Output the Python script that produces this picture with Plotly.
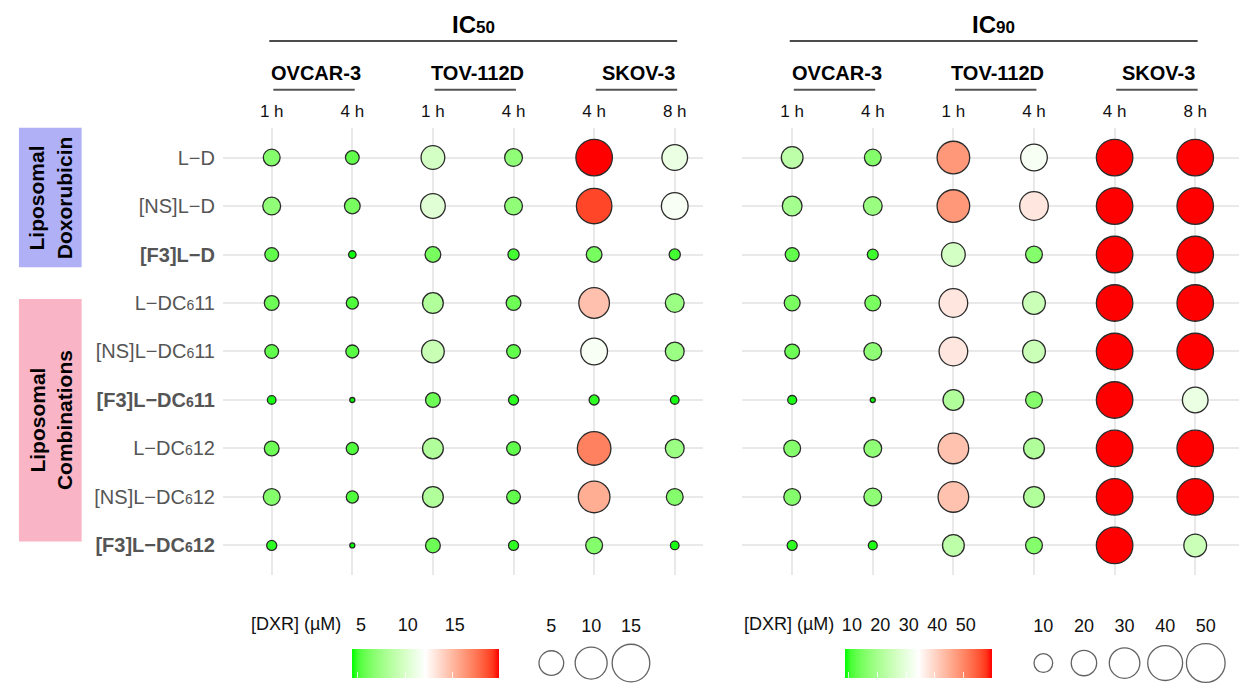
import math
import plotly.graph_objects as go

# ---------------------------------------------------------------------------
# Data: inhibitory concentrations of doxorubicin (µM) per formulation
# ---------------------------------------------------------------------------
formulations = ["L-D", "[NS]L-D", "[F3]L-D",
                "L-DC611", "[NS]L-DC611", "[F3]L-DC611",
                "L-DC612", "[NS]L-DC612", "[F3]L-DC612"]

cell_lines = ["OVCAR-3", "TOV-112D", "SKOV-3"]
time_points = ["1 h", "4 h", "1 h", "4 h", "4 h", "8 h"]

# columns: OVCAR-3 1 h, OVCAR-3 4 h, TOV-112D 1 h, TOV-112D 4 h, SKOV-3 4 h, SKOV-3 8 h
ic50_um = [
    [6.6, 5.6, 9.9, 7.0, 20.0, 11.1],
    [7.0, 6.2, 10.5, 7.0, 19.0, 11.8],
    [5.6, 4.5, 6.2, 5.0, 6.2, 5.0],
    [5.9, 5.2, 8.3, 5.9, 14.7, 7.4],
    [5.6, 5.4, 9.3, 5.6, 11.8, 7.4],
    [4.6, 4.4, 5.9, 4.8, 4.8, 4.6],
    [5.9, 5.2, 8.3, 5.6, 17.2, 7.4],
    [6.6, 5.2, 8.3, 5.6, 15.5, 6.6],
    [4.8, 4.4, 5.9, 4.8, 6.6, 4.6],
]

ic90_um = [
    [23.1, 15.8, 48.0, 32.9, 60.0, 60.0],
    [19.9, 18.4, 48.0, 37.5, 60.0, 60.0],
    [12.7, 10.4, 26.7, 15.8, 60.0, 60.0],
    [14.7, 14.7, 37.5, 24.9, 60.0, 60.0],
    [13.6, 17.1, 37.5, 24.9, 60.0, 60.0],
    [9.4, 8.6, 21.5, 15.8, 60.0, 30.7],
    [15.8, 17.1, 42.5, 21.5, 60.0, 60.0],
    [15.8, 17.1, 42.5, 21.5, 60.0, 60.0],
    [9.9, 9.4, 23.1, 15.8, 60.0, 24.9],
]

ic50_color_ticks = [5, 10, 15]
ic90_color_ticks = [10, 20, 30, 40, 50]
ic50_size_keys = [5, 10, 15]
ic90_size_keys = [10, 20, 30, 40, 50]

# ---------------------------------------------------------------------------
# Styling / geometry
# ---------------------------------------------------------------------------
W, H = 1239, 684
FONT = "Liberation Sans, Arial, sans-serif"
GRID = "#e9e9e9"
LABEL_GREY = "#555555"

PANEL_TOP, PANEL_BOTTOM = 128, 577
LEFT_X = (218, 700)
RIGHT_X = (740, 1239)
COL0_LEFT, COL0_RIGHT, COL_STEP = 267, 790, 81
ROW0, ROW_STEP = 158, 48.63

D_MIN, D_MAX = 5.0, 36.5  # bubble diameter range in px


def fx(p):
    return p / W


def fy(p):
    return 1 - p / H


def bubble_px(v, vmin, vmax):
    return D_MIN + (D_MAX - D_MIN) * math.sqrt((v - vmin) / (vmax - vmin))


# --- green -> white -> red gradient interpolated in CIELAB -----------------
def _to_lin(c):
    c /= 255.0
    return c / 12.92 if c <= 0.04045 else ((c + 0.055) / 1.055) ** 2.4


def _from_lin(c):
    v = 12.92 * c if c <= 0.0031308 else 1.055 * c ** (1 / 2.4) - 0.055
    return int(round(max(0.0, min(1.0, v)) * 255))


def rgb_to_lab(rgb):
    r, g, b = (_to_lin(c) for c in rgb)
    X = (0.4124 * r + 0.3576 * g + 0.1805 * b) / 0.95047
    Y = 0.2126 * r + 0.7152 * g + 0.0722 * b
    Z = (0.0193 * r + 0.1192 * g + 0.9505 * b) / 1.08883
    d = 6 / 29

    def f(t):
        return t ** (1 / 3) if t > d ** 3 else t / (3 * d * d) + 4 / 29
    return (116 * f(Y) - 16, 500 * (f(X) - f(Y)), 200 * (f(Y) - f(Z)))


def lab_to_rgb(lab):
    L, a, b = lab
    d = 6 / 29
    fy_ = (L + 16) / 116
    fx_ = fy_ + a / 500
    fz_ = fy_ - b / 200

    def finv(t):
        return t ** 3 if t > d else 3 * d * d * (t - 4 / 29)
    X, Y, Z = 0.95047 * finv(fx_), finv(fy_), 1.08883 * finv(fz_)
    r = 3.2406 * X - 1.5372 * Y - 0.4986 * Z
    g = -0.9689 * X + 1.8758 * Y + 0.0415 * Z
    bb = 0.0557 * X - 0.2040 * Y + 1.0570 * Z
    return "rgb({},{},{})".format(_from_lin(r), _from_lin(g), _from_lin(bb))


def lab_ramp(c0, c1, c2, n=12):
    l0, l1, l2 = rgb_to_lab(c0), rgb_to_lab(c1), rgb_to_lab(c2)
    stops = []
    for i in range(n + 1):
        t = i / n
        stops.append([0.5 * t, lab_to_rgb(tuple(p + (q - p) * t for p, q in zip(l0, l1)))])
    for i in range(1, n + 1):
        t = i / n
        stops.append([0.5 + 0.5 * t, lab_to_rgb(tuple(p + (q - p) * t for p, q in zip(l1, l2)))])
    return stops


COLORSCALE = lab_ramp((0, 255, 0), (255, 255, 255), (255, 0, 0))


def with_sub6(name):
    return name.replace("-", "−").replace("DC6", "DC<span style='font-size:14px'>6</span>")


row_labels = ["<b>" + with_sub6(n) + "</b>" if n.startswith("[F3]") else with_sub6(n)
              for n in formulations]

# ---------------------------------------------------------------------------
fig = go.Figure()

panels = [
    ("x", "y", ic50_um, ic50_color_ticks, COL0_LEFT, LEFT_X),
    ("x2", "y2", ic90_um, ic90_color_ticks, COL0_RIGHT, RIGHT_X),
]

for k, (xa, ya, table, cticks, col0, span) in enumerate(panels):
    flat = [v for row in table for v in row]
    vmin, vmax = min(flat), max(flat)
    xs, ys, vs = [], [], []
    for i, row in enumerate(table):
        for j, v in enumerate(row):
            xs.append(j)
            ys.append(i)
            vs.append(v)
    bar_left = 351 if k == 0 else 846
    fig.add_trace(go.Scatter(
        x=xs, y=ys, mode="markers", xaxis=xa, yaxis=ya, showlegend=False,
        hoverinfo="skip", cliponaxis=False,
        marker=dict(
            size=[bubble_px(v, vmin, vmax) for v in vs],
            color=vs, colorscale=COLORSCALE, cmin=vmin, cmax=vmax,
            opacity=1, line=dict(color="#2b2b2b", width=1.3),
            showscale=True,
            colorbar=dict(
                orientation="h", x=fx(bar_left - 3), xanchor="left",
                y=fy(651), yanchor="top", len=147, lenmode="pixels",
                thickness=29, thicknessmode="pixels", outlinewidth=0,
                xpad=0, ypad=0, showticklabels=False, ticks="inside",
                tickvals=cticks, tickcolor="rgba(255,255,255,0.8)", ticklen=6,
            ),
        ),
    ))

    # tick labels of the colour key, placed above the bar
    lab_x, lab_y = ("x3", "y3") if k == 0 else ("x4", "y4")
    fig.add_trace(go.Scatter(x=[], y=[], xaxis=lab_x, yaxis=lab_y,
                             showlegend=False, hoverinfo="skip"))
    fig.update_layout(**{
        ("xaxis3" if k == 0 else "xaxis4"): dict(
            domain=[fx(bar_left), fx(bar_left + 147)], range=[vmin, vmax],
            anchor=lab_y, side="top", tickvals=cticks, showgrid=False,
            zeroline=False, showline=False, ticks="outside", ticklen=9,
            tickcolor="rgba(0,0,0,0)", tickfont=dict(size=18, color="#111"),
        ),
        ("yaxis3" if k == 0 else "yaxis4"): dict(
            domain=[fy(680), fy(650)], anchor=lab_x, visible=False, range=[0, 1],
        ),
    })

# size keys
size_keys = [
    ("x5", "y5", ic50_size_keys, (528, 648), lambda v: 8.2 + 7.94 * math.sqrt(v)),
    ("x6", "y6", ic90_size_keys, (1022, 1226), lambda v: 3.8 + 5.12 * math.sqrt(v)),
]
for n, (xa, ya, keys, (a, b), dfun) in enumerate(size_keys):
    fig.add_trace(go.Scatter(
        x=[str(v) for v in keys], y=[0] * len(keys), mode="markers",
        xaxis=xa, yaxis=ya, showlegend=False, hoverinfo="skip", cliponaxis=False,
        marker=dict(size=[dfun(v) - 1.3 for v in keys], color="white",
                    line=dict(color="#222", width=1.3)),
    ))
    fig.update_layout(**{
        "xaxis%d" % (5 + n): dict(
            domain=[fx(a), fx(b)], anchor=ya, side="top", type="category",
            range=[-0.5, len(keys) - 0.5], showgrid=False, zeroline=False,
            showline=False, ticks="outside", ticklen=5,
            tickcolor="rgba(0,0,0,0)", tickfont=dict(size=18, color="#111"),
        ),
        "yaxis%d" % (5 + n): dict(
            domain=[fy(683), fy(647)], anchor=xa, visible=False, range=[-1, 1],
        ),
    })

# main panel axes
y_range = [(PANEL_BOTTOM - ROW0) / ROW_STEP, -(ROW0 - PANEL_TOP) / ROW_STEP]
for k, (xa, ya, table, cticks, col0, span) in enumerate(panels):
    xr = [-(col0 - span[0]) / COL_STEP, (span[1] - col0) / COL_STEP]
    xkey = "xaxis" if k == 0 else "xaxis2"
    ykey = "yaxis" if k == 0 else "yaxis2"
    fig.update_layout(**{
        xkey: dict(
            domain=[fx(span[0]), fx(span[1])], range=xr, anchor=ya, side="top",
            tickvals=list(range(len(time_points))), ticktext=time_points,
            showgrid=True, gridcolor=GRID, gridwidth=2, zeroline=False,
            showline=False, ticks="outside", ticklen=3,
            tickcolor="rgba(0,0,0,0)", tickfont=dict(size=17, color="#111"),
        ),
        ykey: dict(
            domain=[fy(PANEL_BOTTOM), fy(PANEL_TOP)], range=y_range, anchor=xa,
            tickvals=list(range(len(formulations))),
            ticktext=row_labels if k == 0 else None,
            showticklabels=(k == 0), showgrid=True, gridcolor=GRID, gridwidth=2,
            zeroline=False, showline=False, ticks="outside", ticklen=3,
            tickcolor="rgba(0,0,0,0)",
            tickfont=dict(size=20, color=LABEL_GREY),
        ),
    })

    # IC title and rule
    title = "IC50" if k == 0 else "IC90"
    fig.add_annotation(
        x=2.5, xref=xa, y=fy(25), yref="paper", showarrow=False,
        xanchor="center", yanchor="middle",
        text="<b>IC<span style='font-size:17px'>{}</span></b>".format(title[2:]),
        font=dict(size=24, color="#000"),
    )
    fig.add_shape(type="line", xref=xa, yref="paper", x0=-0.03, x1=5.03,
                  y0=fy(41), y1=fy(41), line=dict(color="#111", width=1.5))
    for c, cl in enumerate(cell_lines):
        fig.add_annotation(
            x=2 * c + 0.55, xref=xa, y=fy(73), yref="paper", showarrow=False,
            xanchor="center", yanchor="middle",
            text="<b>{}</b>".format(cl), font=dict(size=20, color="#000"),
        )
        fig.add_shape(type="line", xref=xa, yref="paper", x0=2 * c + 0.02,
                      x1=2 * c + 1.03, y0=fy(90), y1=fy(90),
                      line=dict(color="#555", width=2))
    fig.add_annotation(
        x=fx(291 if k == 0 else 787), xref="paper", y=fy(626), yref="paper",
        xanchor="center", yanchor="middle",
        showarrow=False, text="[DXR] (µM)", font=dict(size=18, color="#111"),
    )

# formulation group boxes
groups = [("Liposomal<br>Doxorubicin", 128, 268, "#b0b0f7"),
          ("Liposomal<br>Combinations", 300, 543, "#f9b4c5")]
for text, top, bottom, col in groups:
    fig.add_shape(type="rect", xref="paper", yref="paper", x0=fx(13), x1=fx(76),
                  y0=fy(bottom), y1=fy(top), fillcolor=col, line=dict(width=0),
                  layer="below")
    fig.add_annotation(x=fx(45), y=fy((top + bottom) / 2), xref="paper",
                       yref="paper", showarrow=False, textangle=-90,
                       xanchor="center", yanchor="middle",
                       text="<b>{}</b>".format(text),
                       font=dict(size=21, color="#000"))

fig.update_layout(
    width=W, height=H, margin=dict(l=0, r=0, t=0, b=0),
    paper_bgcolor="white", plot_bgcolor="white",
    font=dict(family=FONT), showlegend=False,
)

fig.write_html("out.html")
